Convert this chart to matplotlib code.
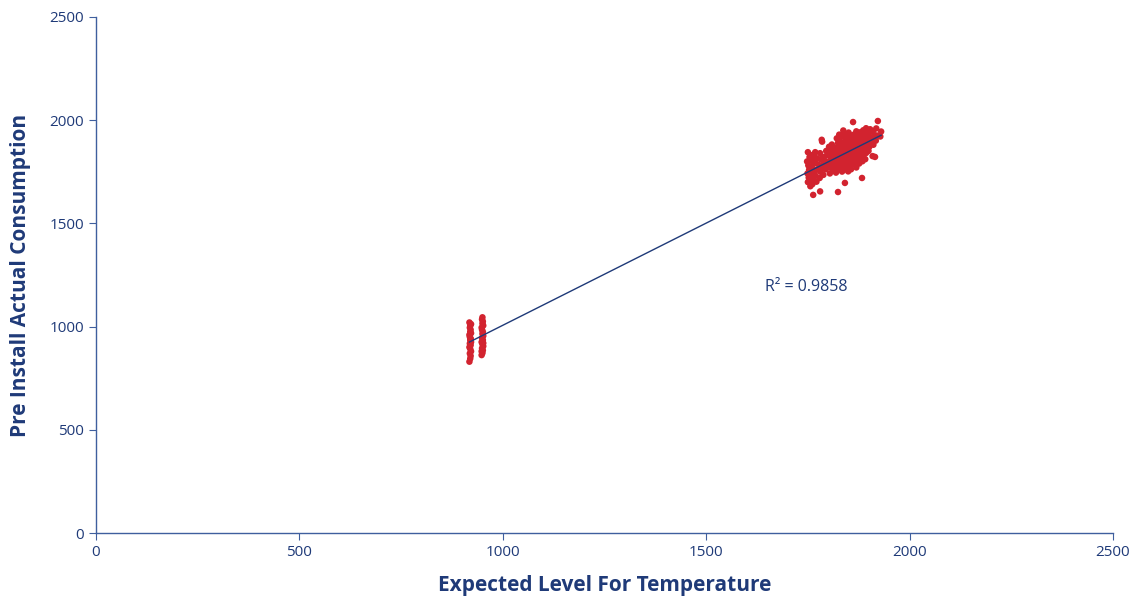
import numpy as np
import matplotlib.pyplot as plt

# low cluster: two columns of points
low_x = [918, 920, 921, 919, 922, 920, 918, 921, 919, 922, 920, 921, 919, 918, 922, 920, 921, 919,
         920, 922, 918, 921,
         948, 950, 951, 949, 952, 950, 948, 951, 949, 952, 950, 951, 949, 948, 952, 950, 951, 949,
         950, 952, 948]
low_y = [830, 845, 858, 870, 880, 892, 900, 910, 918, 925, 935, 942, 950, 960, 968, 975, 985, 995,
         1005, 1012, 1020, 940,
         862, 872, 885, 895, 905, 915, 925, 935, 945, 955, 965, 975, 985, 995, 1005, 1015, 1025,
         1035, 1045, 920, 880]

# high cluster
high_x = [1750, 1752, 1749, 1753, 1751, 1748, 1754, 1750, 1756, 1758, 1755, 1757, 1759, 1756,
          1762, 1761, 1763, 1764, 1760, 1762, 1765, 1768, 1771, 1769, 1772, 1770, 1773, 1779,
          1781, 1778, 1782, 1780, 1785, 1788, 1786, 1789, 1787, 1784, 1794, 1796, 1793, 1797,
          1795, 1804, 1806, 1803, 1807, 1805, 1808, 1802, 1811, 1813, 1810, 1814, 1812, 1815,
          1809, 1819, 1821, 1818, 1822, 1820, 1823, 1817, 1824, 1821, 1826, 1828, 1825, 1829,
          1827, 1830, 1826, 1828, 1827, 1825, 1834, 1836, 1833, 1837, 1835, 1838, 1832, 1836,
          1834, 1837, 1841, 1843, 1840, 1844, 1842, 1845, 1839, 1843, 1841, 1849, 1851, 1848,
          1852, 1850, 1853, 1847, 1851, 1849, 1850, 1856, 1858, 1855, 1859, 1857, 1860, 1854,
          1858, 1856, 1862, 1864, 1861, 1865, 1863, 1866, 1860, 1864, 1862, 1863, 1869, 1871,
          1868, 1872, 1870, 1873, 1867, 1871, 1869, 1876, 1878, 1875, 1879, 1877, 1880, 1874,
          1878, 1876, 1884, 1886, 1883, 1887, 1885, 1888, 1882, 1886, 1891, 1893, 1890, 1894,
          1892, 1895, 1889, 1893, 1899, 1901, 1898, 1902, 1900, 1903, 1909, 1911, 1908, 1912,
          1910, 1917, 1919, 1918, 1922, 1928, 1930, 1841, 1861, 1883, 1780, 1763, 1824, 1915]
high_y = [1700, 1722, 1742, 1760, 1781, 1800, 1821, 1845, 1680, 1710, 1736, 1755, 1776, 1812,
          1832, 1690, 1716, 1745, 1770, 1800, 1825, 1845, 1702, 1731, 1760, 1791, 1815, 1720,
          1750, 1782, 1810, 1840, 1896, 1735, 1766, 1790, 1821, 1905, 1762, 1781, 1802, 1830,
          1851, 1742, 1771, 1792, 1812, 1830, 1852, 1871, 1761, 1782, 1801, 1822, 1841, 1862,
          1882, 1746, 1766, 1786, 1806, 1826, 1846, 1866, 1890, 1912, 1761, 1781, 1801, 1821,
          1841, 1861, 1881, 1902, 1930, 1795, 1751, 1771, 1791, 1811, 1831, 1851, 1871, 1891,
          1921, 1950, 1762, 1781, 1801, 1821, 1841, 1861, 1881, 1901, 1932, 1752, 1776, 1796,
          1816, 1836, 1856, 1876, 1896, 1916, 1940, 1762, 1786, 1806, 1826, 1846, 1866, 1886,
          1906, 1926, 1792, 1811, 1831, 1851, 1871, 1891, 1911, 1931, 1845, 1875, 1771, 1801,
          1821, 1841, 1861, 1881, 1901, 1921, 1946, 1790, 1816, 1836, 1856, 1876, 1896, 1916,
          1941, 1866, 1801, 1826, 1846, 1866, 1886, 1906, 1926, 1951, 1811, 1841, 1861, 1881,
          1901, 1921, 1941, 1961, 1851, 1871, 1891, 1911, 1936, 1956, 1826, 1881, 1901, 1921,
          1946, 1901, 1926, 1960, 1996, 1921, 1945, 1696, 1991, 1720, 1655, 1638, 1652, 1822]

r2_label = 'R² = 0.9858'
navy = '#1F3A78'
red = '#D2232F'

plt.rcParams['font.family'] = ['Open Sans', 'DejaVu Sans']

fig = plt.figure(figsize=(11.37, 6.02), dpi=100)
ax = fig.add_axes([0.0844, 0.1146, 0.8945, 0.8572])

xs = np.array(low_x + high_x, dtype=float)
ys = np.array(low_y + high_y, dtype=float)
ax.scatter(xs, ys, s=22, color=red, edgecolors='none', zorder=2)

# linear trendline over the data range
k, b = np.polyfit(xs, ys, 1)
lx = np.array([xs.min(), xs.max()])
ax.plot(lx, k * lx + b, color=navy, lw=1.0, zorder=3)

ax.text(1645, 1190, r2_label, color=navy, fontsize=11.5, va='center', ha='left')

ax.set_xlim(0, 2500)
ax.set_ylim(0, 2500)
ax.set_xticks(np.arange(0, 2501, 500))
ax.set_yticks(np.arange(0, 2501, 500))
for s in ['top', 'right']:
    ax.spines[s].set_visible(False)
for s in ['left', 'bottom']:
    ax.spines[s].set_color('#3F5F9E')
    ax.spines[s].set_linewidth(1.0)
ax.tick_params(colors='#3F5F9E', labelcolor=navy, labelsize=11, length=5, direction='out')

ax.set_xlabel('Expected Level For Temperature', fontsize=15, fontweight='bold', color=navy, labelpad=11)
ax.set_ylabel('Pre Install Actual Consumption', fontsize=15, fontweight='bold', color=navy, labelpad=13)

fig.savefig('out.png', dpi=100)
